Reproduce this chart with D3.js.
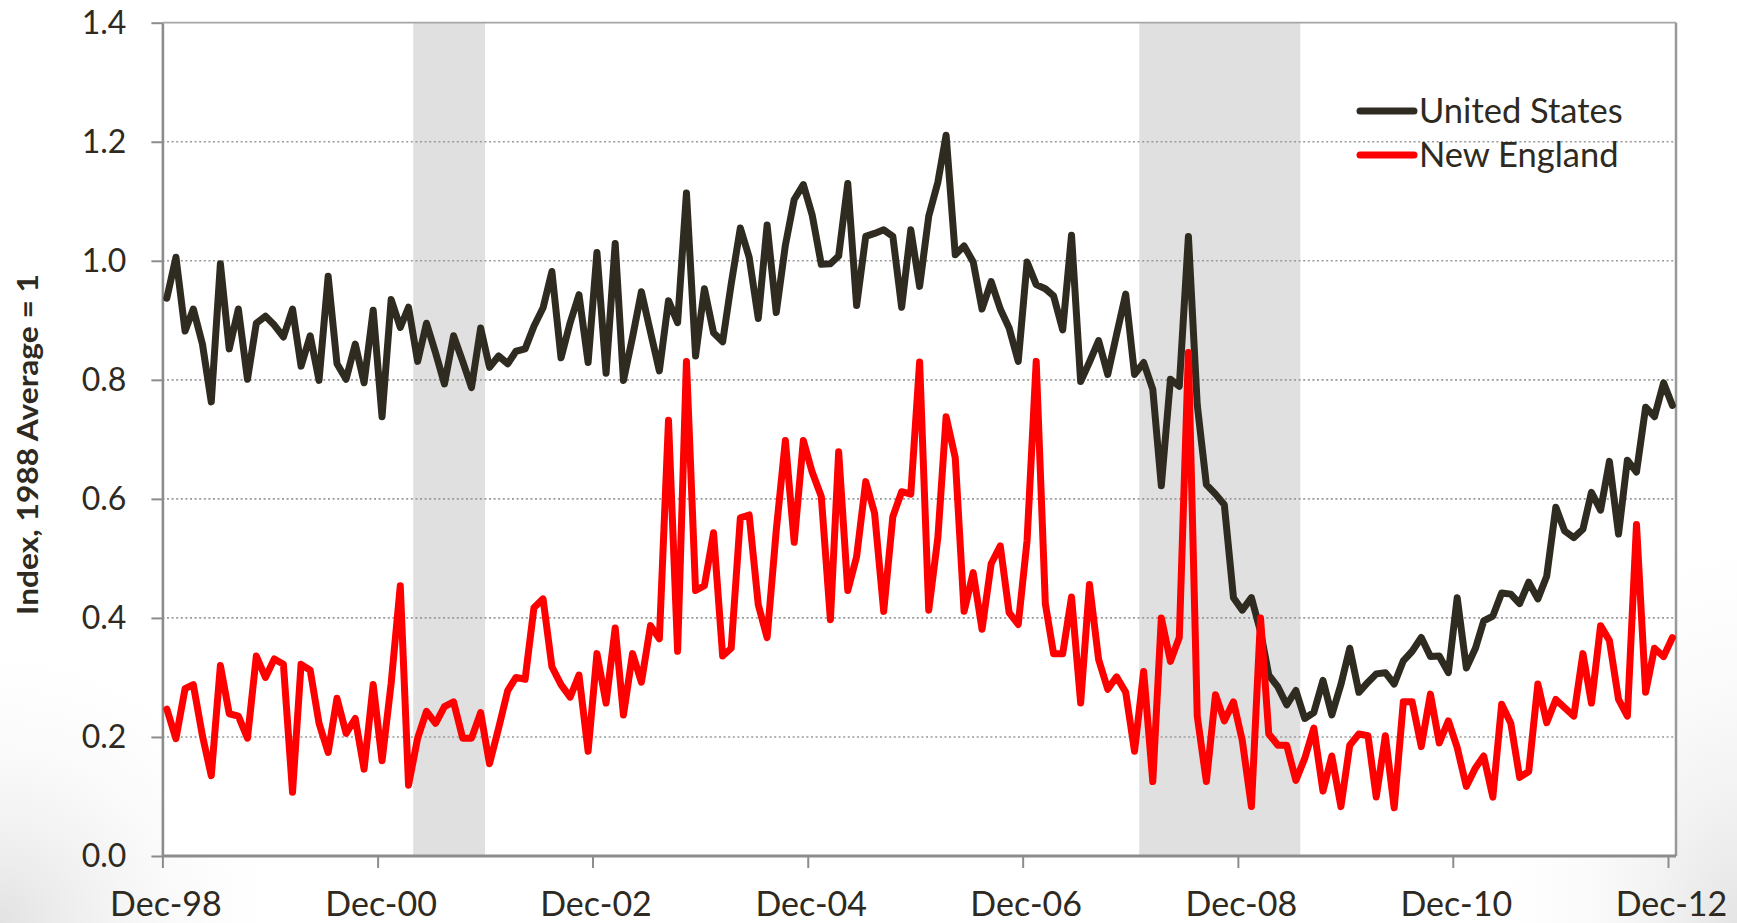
<!DOCTYPE html>
<html>
<head>
<meta charset="utf-8">
<script src="https://cdn.jsdelivr.net/npm/d3@7"></script>
<style>
html,body{margin:0;padding:0;background:#fff;}
svg{display:block;}
</style>
</head>
<body>
<svg id="chart" width="1737" height="923"></svg>
<script>
// ---- Data ----
const startMonth = "1998-12";
const seriesNames = ["United States", "New England"];
const usValues = [
0.937,1.006,0.882,0.919,0.860,0.763,0.995,0.852,0.919,0.801,0.895,0.907,
0.892,0.872,0.919,0.823,0.874,0.799,0.974,0.827,0.801,0.860,0.795,0.917,
0.738,0.935,0.888,0.922,0.831,0.895,0.845,0.793,0.874,0.831,0.787,0.887,
0.821,0.840,0.827,0.848,0.852,0.890,0.921,0.982,0.837,0.896,0.943,0.829,
1.014,0.811,1.029,0.799,0.872,0.948,0.880,0.815,0.933,0.896,1.114,0.840,
0.953,0.879,0.864,0.961,1.055,1.006,0.903,1.060,0.913,1.026,1.103,1.128,
1.077,0.994,0.995,1.008,1.130,0.925,1.041,1.046,1.052,1.041,0.922,1.052,
0.957,1.075,1.132,1.211,1.010,1.025,0.998,0.919,0.965,0.919,0.887,0.831,
0.998,0.960,0.953,0.941,0.884,1.043,0.797,0.830,0.866,0.809,0.876,0.944,
0.809,0.829,0.784,0.622,0.801,0.789,1.041,0.758,0.624,0.608,0.590,0.434,
0.413,0.434,0.377,0.304,0.284,0.254,0.278,0.231,0.241,0.295,0.237,0.288,
0.349,0.275,0.292,0.306,0.308,0.289,0.328,0.344,0.367,0.335,0.336,0.308,
0.434,0.316,0.349,0.395,0.403,0.442,0.440,0.424,0.460,0.432,0.470,0.586,
0.546,0.535,0.549,0.611,0.581,0.663,0.541,0.665,0.645,0.754,0.738,0.795,
0.757
];
const neValues = [
0.247,0.197,0.281,0.288,0.202,0.135,0.320,0.239,0.235,0.198,0.336,0.300,
0.331,0.322,0.107,0.322,0.312,0.223,0.174,0.265,0.206,0.231,0.146,0.288,
0.160,0.290,0.454,0.119,0.198,0.243,0.223,0.251,0.259,0.198,0.198,0.241,
0.155,0.215,0.278,0.300,0.297,0.417,0.432,0.318,0.288,0.267,0.304,0.176,
0.340,0.257,0.383,0.237,0.340,0.292,0.387,0.365,0.732,0.344,0.831,0.446,
0.454,0.543,0.336,0.349,0.568,0.573,0.422,0.367,0.547,0.698,0.527,0.698,
0.645,0.604,0.397,0.679,0.446,0.503,0.629,0.576,0.411,0.570,0.612,0.608,
0.830,0.413,0.535,0.738,0.669,0.411,0.476,0.381,0.491,0.521,0.409,0.389,
0.530,0.831,0.424,0.340,0.340,0.435,0.257,0.456,0.330,0.280,0.301,0.275,
0.176,0.310,0.125,0.400,0.327,0.367,0.846,0.235,0.125,0.271,0.227,0.259,
0.194,0.083,0.400,0.205,0.186,0.186,0.127,0.164,0.215,0.109,0.168,0.083,
0.186,0.205,0.202,0.099,0.202,0.081,0.259,0.259,0.184,0.272,0.190,0.227,
0.182,0.117,0.148,0.168,0.099,0.255,0.223,0.132,0.142,0.289,0.224,0.263,
0.249,0.235,0.340,0.257,0.387,0.362,0.263,0.235,0.557,0.275,0.349,0.335,
0.367
];
const xTickLabels = ["Dec-98","Dec-00","Dec-02","Dec-04","Dec-06","Dec-08","Dec-10","Dec-12"];
const yTickValues = [0.0,0.2,0.4,0.6,0.8,1.0,1.2,1.4];
const recessionStarts = ["2001-04","2008-01"];
const recessionEnds = ["2001-12","2009-07"];
const yTitle = "Index, 1988 Average = 1";

// ---- Setup ----
const parseMonth = d3.timeParse("%Y-%m");
const parseTick = d3.timeParse("%b-%y");
const t0 = parseMonth(startMonth);
// observations sit at mid-month
const dates = usValues.map((_, i) => d3.timeDay.offset(d3.timeMonth.offset(t0, i), 15));
const tickDates = xTickLabels.map(parseTick);

const svg = d3.select("#chart");
const W = 1737, H = 923;
const mLeft = 162.4, mRight = 1676, mTop = 22.7, mBottom = 856;

const x = d3.scaleTime().domain([tickDates[0], tickDates[tickDates.length-1]]).range([mLeft, 1668]);
const y = d3.scaleLinear().domain([0, 1.4]).range([mBottom, mTop]);

// background soft shading (slide look)
const defs = svg.append("defs");
const g1 = defs.append("radialGradient").attr("id","bgl").attr("cx","0").attr("cy","1").attr("r","1");
g1.append("stop").attr("offset","0").attr("stop-color","#e2e2e2");
g1.append("stop").attr("offset","1").attr("stop-color","#ffffff").attr("stop-opacity",0);
const g2 = defs.append("radialGradient").attr("id","bgr").attr("cx","1").attr("cy","1").attr("r","1");
g2.append("stop").attr("offset","0").attr("stop-color","#e4e4e4");
g2.append("stop").attr("offset","1").attr("stop-color","#ffffff").attr("stop-opacity",0);
svg.append("rect").attr("width",W).attr("height",H).attr("fill","#fff");
svg.append("rect").attr("x",0).attr("y",H-300).attr("width",300).attr("height",300).attr("fill","url(#bgl)");
svg.append("rect").attr("x",W-260).attr("y",H-420).attr("width",260).attr("height",420).attr("fill","url(#bgr)");
svg.append("rect").attr("x",mLeft).attr("y",mTop).attr("width",mRight-mLeft).attr("height",mBottom-mTop).attr("fill","#fff");

// recession shading
svg.append("g").selectAll("rect")
  .data(recessionStarts.map((s, i) => [parseMonth(s), parseMonth(recessionEnds[i])]))
  .join("rect")
  .attr("x", d => x(d[0]))
  .attr("width", d => x(d[1]) - x(d[0]))
  .attr("y", mTop)
  .attr("height", mBottom - mTop)
  .attr("fill", "#e0e0e0");

// gridlines
svg.append("g").selectAll("line")
  .data(yTickValues.filter(v => v > 0 && v < 1.4))
  .join("line")
  .attr("x1", mLeft).attr("x2", mRight)
  .attr("y1", d => y(d)).attr("y2", d => y(d))
  .attr("stroke", "#9a9a9a").attr("stroke-width", 1.6)
  .attr("stroke-dasharray", "2,2.6");

// frame: top & right
svg.append("line").attr("x1", mLeft).attr("x2", mRight).attr("y1", mTop).attr("y2", mTop)
  .attr("stroke", "#a6a6a6").attr("stroke-width", 1.8);
svg.append("line").attr("x1", mRight).attr("x2", mRight).attr("y1", mTop).attr("y2", mBottom)
  .attr("stroke", "#999").attr("stroke-width", 2.5);

const textColor = "#2e2a21";
const font = "Lato, 'Open Sans', sans-serif";

// Y axis
const yAxis = d3.axisLeft(y).tickValues(yTickValues).tickFormat(d3.format(".1f"))
  .tickSizeInner(11).tickSizeOuter(0).tickPadding(25);
const gy = svg.append("g").attr("transform", `translate(${mLeft},0)`).call(yAxis);
gy.select(".domain").attr("stroke", "#8c8c8c").attr("stroke-width", 2.6);
gy.selectAll(".tick line").attr("stroke", "#8c8c8c").attr("stroke-width", 2);
gy.selectAll(".tick text").attr("font-family", font).attr("font-size", 32)
  .attr("fill", textColor).attr("dy", "0.34em");

// X axis
const xAxis = d3.axisBottom(x).tickValues(tickDates).tickFormat((d, i) => xTickLabels[i])
  .tickSizeInner(12).tickSizeOuter(0);
const gx = svg.append("g").attr("transform", `translate(0,${mBottom})`).call(xAxis);
gx.select(".domain").attr("d", `M${mLeft},0H${mRight}`).attr("stroke", "#8c8c8c").attr("stroke-width", 3);
gx.selectAll(".tick line").attr("stroke", "#8c8c8c").attr("stroke-width", 2);
gx.selectAll(".tick text").attr("font-family", font).attr("font-size", 34)
  .attr("fill", textColor).attr("y", 60).attr("dy", 0).attr("dx", 3);

// Y title
svg.append("text")
  .attr("transform", `translate(38,${(274+615)/2}) rotate(-90)`)
  .attr("text-anchor", "middle")
  .attr("font-family", font).attr("font-weight", "bold").attr("font-size", 28)
  .attr("fill", textColor)
  .attr("textLength", 341).attr("lengthAdjust", "spacingAndGlyphs")
  .text(yTitle);

// Lines
const line = d3.line().x((d, i) => x(dates[i])).y(d => y(d)).curve(d3.curveLinear);
const colors = ["#2f2b20", "#ff0000"];
[usValues, neValues].forEach((vals, k) => {
  svg.append("path").datum(vals)
    .attr("d", line)
    .attr("fill", "none")
    .attr("stroke", colors[k])
    .attr("stroke-width", 7)
    .attr("stroke-linejoin", "round")
    .attr("stroke-linecap", "round");
});

// Legend
const leg = svg.append("g");
seriesNames.forEach((name, k) => {
  const ly = 111 + k * 44;
  leg.append("line").attr("x1", 1360).attr("x2", 1414).attr("y1", ly).attr("y2", ly)
    .attr("stroke", colors[k]).attr("stroke-width", 7).attr("stroke-linecap", "round");
  leg.append("text").attr("x", 1419).attr("y", ly + 12)
    .attr("font-family", font).attr("font-size", 34.5).attr("fill", textColor)
    .text(name);
});
</script>
</body>
</html>
